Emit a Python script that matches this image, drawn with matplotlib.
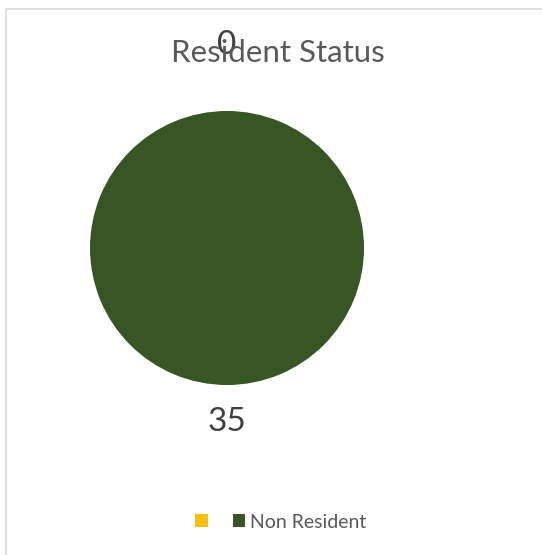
import numpy as np
import matplotlib
matplotlib.use("Agg")
import matplotlib.pyplot as plt
from matplotlib.patches import Patch, Rectangle

# chart data
categories = ["", "Non Resident"]
counts = [0, 35]
colors = ["#FFC000", "#375623"]
label_dist = [1.5, 1.25]

plt.rcParams['font.family'] = ['Lato', 'DejaVu Sans']

fig = plt.figure(figsize=(5.42, 5.55), dpi=100)
fig.patch.set_facecolor("white")

# light frame around the chart area
fig.patches.append(Rectangle((5.5 / 542, -0.1), 1.2, 1.1 - 8.5 / 555,
                             transform=fig.transFigure, fill=False,
                             edgecolor="#D9D9D9", lw=1.2))

ax = fig.add_axes([90 / 542, (555 - 385) / 555, 274 / 542, 274 / 555])
wedges, _ = ax.pie(counts, colors=colors, startangle=90, counterclock=False,
                   wedgeprops=dict(linewidth=0))
ax.set_xlim(-1, 1)
ax.set_ylim(-1, 1)
ax.set_aspect("equal")
ax.axis("off")

# data labels outside the slices
for w, val, d in zip(wedges, counts, label_dist):
    ang = np.deg2rad((w.theta1 + w.theta2) / 2)
    ax.text(d * np.cos(ang), d * np.sin(ang), str(val), ha="center", va="center_baseline",
            fontsize=24, color="#404040", clip_on=False)

fig.text(278 / 542, 1 - 51 / 555, "Resident Status", ha="center", va="center_baseline",
         fontsize=22.5, color="#595959")

handles = [Patch(facecolor=c, edgecolor="none") for c in colors]
fig.legend(handles, categories, loc="center", bbox_to_anchor=(281 / 542, 1 - 522 / 555),
           ncol=2, frameon=False, fontsize=14, labelcolor="#595959",
           handlelength=0.65, handleheight=0.65, handletextpad=0.26, columnspacing=1.0)

fig.savefig("out.png", dpi=100)
